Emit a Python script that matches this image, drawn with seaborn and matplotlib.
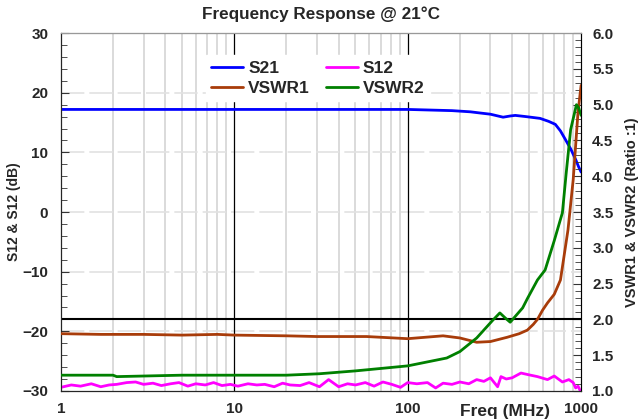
import numpy as np
import pandas as pd
import matplotlib
matplotlib.use("Agg")
import matplotlib.pyplot as plt
import seaborn as sns

# --- Données ---
freq_s21 = [1, 2, 5, 10, 20, 50, 100, 134, 180, 230, 262, 300, 355, 390, 417, 480, 580,
            650, 710, 760, 810, 870, 930, 970, 1000]
s21 = [17.2, 17.2, 17.2, 17.2, 17.2, 17.2, 17.2, 17.1, 17.0, 16.8, 16.6, 16.4, 15.9, 16.1,
       16.2, 16.0, 15.7, 15.2, 14.7, 13.6, 12.2, 10.6, 8.8, 7.5, 6.7]

freq_s12 = [1, 1.15, 1.3, 1.5, 1.7, 1.9, 2.1, 2.4, 2.7, 3.0, 3.4, 3.8, 4.3, 4.8, 5.4, 6.0,
            6.8, 7.6, 8.5, 9.5, 10.5, 12, 13.5, 15, 17, 19, 21, 24, 27, 31, 35, 40, 45,
            50, 57, 64, 72, 81, 91, 100, 113, 130, 145, 160, 180, 200, 225, 250, 275,
            300, 330, 345, 370, 400, 450, 500, 560, 640, 700, 780, 850, 900, 930, 960, 990]
s12 = [-29.4, -29.0, -29.2, -28.8, -29.3, -29.0, -28.9, -28.6, -28.5, -28.9, -28.7, -29.1,
       -28.8, -28.6, -29.2, -28.8, -29.0, -28.6, -29.1, -28.9, -29.2, -28.8, -29.0, -28.9,
       -29.3, -28.7, -29.0, -29.1, -28.6, -29.3, -28.1, -29.3, -28.8, -29.0, -28.6, -29.2,
       -28.5, -28.9, -29.4, -28.6, -28.8, -28.6, -29.5, -28.7, -28.9, -28.5, -28.8, -28.1,
       -28.4, -27.8, -29.3, -27.6, -28.0, -27.8, -27.0, -27.3, -27.6, -28.1, -27.5, -28.5,
       -28.1, -28.6, -29.5, -29.2, -30.0]

freq_vswr1 = [1, 1.7, 2, 3, 5, 8, 10, 20, 30, 58, 100, 160, 200, 250, 300, 375, 440, 490,
              530, 560, 600, 640, 700, 760, 840, 900, 960, 1000]
vswr1 = [1.80, 1.79, 1.79, 1.79, 1.78, 1.79, 1.78, 1.77, 1.76, 1.76, 1.73, 1.77, 1.74,
         1.68, 1.69, 1.75, 1.80, 1.85, 1.93, 2.00, 2.13, 2.23, 2.35, 2.55, 3.25, 3.95,
         4.90, 5.27]

freq_vswr2 = [1, 2, 2.1, 5, 10, 20, 31, 50, 100, 168, 200, 250, 310, 340, 365, 390, 460,
              490, 560, 620, 700, 780, 820, 870, 940, 970, 1000]
vswr2 = [1.22, 1.22, 1.20, 1.22, 1.22, 1.22, 1.24, 1.28, 1.35, 1.46, 1.55, 1.74, 1.99,
         2.09, 2.02, 1.96, 2.16, 2.29, 2.55, 2.69, 3.10, 3.49, 4.04, 4.65, 5.00, 4.95, 4.85]

vswr_limite = 2.0

sns.set_style("white")
plt.rcParams["font.family"] = ["Liberation Sans", "DejaVu Sans"]
plt.rcParams["font.weight"] = "bold"

fig = plt.figure(figsize=(6.4, 4.19), dpi=100)
ax = fig.add_axes([0.095, 0.067, 0.813, 0.854])
ax2 = ax.twinx()

# --- Grille ---
minor_x = [m * d for d in (1, 10, 100) for m in range(2, 10)]
for x in minor_x:
    ax.axvline(x, color="#d4d4d4", lw=1.2, zorder=0)
for x in (10, 100):
    ax.axvline(x, color="black", lw=0.9, zorder=1)
for y in range(-20, 30, 10):
    ax.axhline(y, color="#e2e2e2", lw=1.2, zorder=0.5, ls=(0, (14, 3)))

# --- Courbes ---
df21 = pd.DataFrame({"f": freq_s21, "v": s21})
df12 = pd.DataFrame({"f": freq_s12, "v": s12})
dv1 = pd.DataFrame({"f": freq_vswr1, "v": vswr1})
dv2 = pd.DataFrame({"f": freq_vswr2, "v": vswr2})

sns.lineplot(data=df21, x="f", y="v", ax=ax, color="#0000ff", lw=2, label="S21", zorder=3)
sns.lineplot(data=df12, x="f", y="v", ax=ax, color="#ff00ff", lw=2, label="S12", zorder=3)
sns.lineplot(data=dv1, x="f", y="v", ax=ax2, color="#a83c0a", lw=2, label="VSWR1", zorder=3)
sns.lineplot(data=dv2, x="f", y="v", ax=ax2, color="#008000", lw=2, label="VSWR2", zorder=3)
ax2.axhline(vswr_limite, color="black", lw=1.5, zorder=2)

ax.set_xscale("log")
ax.set_xlim(1, 1000)
ax.set_ylim(-30, 30)
ax2.set_ylim(1.0, 6.0)

ax.set_xticks([1, 10, 100, 1000])
ax.set_xticklabels(["1", "10", "100", "1000"])
ax.xaxis.set_minor_locator(matplotlib.ticker.NullLocator())
ax.set_yticks(range(-30, 31, 10))
ax.set_yticks(range(-30, 31, 2), minor=True)
ax2.set_yticks(np.arange(1.0, 6.01, 0.5))
ax2.set_yticklabels([f"{v:.1f}" for v in np.arange(1.0, 6.01, 0.5)])
ax2.set_yticks(np.arange(1.0, 6.01, 0.1), minor=True)

ax.tick_params(axis="x", length=0, labelsize=11, pad=8)
ax.tick_params(axis="y", which="major", direction="in", length=6, labelsize=11,
               color="#333333", pad=9)
ax.tick_params(axis="y", which="minor", direction="in", length=4, left=True, color="#333333")
ax2.tick_params(axis="y", which="major", direction="in", length=6, labelsize=11,
                color="#333333", pad=8)
ax2.tick_params(axis="y", which="minor", direction="in", length=4, right=True, color="#333333")
for lab in ax.get_xticklabels() + ax.get_yticklabels() + ax2.get_yticklabels():
    lab.set_fontweight("bold")

for sp in ax.spines.values():
    sp.set_color("#555555")
ax.spines["left"].set_color("black")
ax.spines["bottom"].set_color("black")
ax2.spines["right"].set_color("black")
ax2.spines["top"].set_color("#999999")

ax.set_xlabel("")
ax.set_ylabel("S12 & S12 (dB)", fontsize=10, fontweight="bold", labelpad=1)
ax2.set_ylabel("VSWR1 & VSWR2 (Ratio :1)", fontsize=10.5, fontweight="bold", labelpad=8)
ax.set_title("Frequency Response @ 21°C", fontsize=12.3, fontweight="bold", pad=10)
fig.text(0.789, 0.008, "Freq (MHz)", fontsize=12.5, fontweight="bold", ha="center")

# --- Légende ---
h1, l1 = ax.get_legend_handles_labels()
h2, l2 = ax2.get_legend_handles_labels()
ax.get_legend().remove()
ax2.get_legend().remove()
# ncol=2 remplit par colonne : S21/VSWR1 puis S12/VSWR2
handles = [h1[0], h2[0], h1[1], h2[1]]
labels = [l1[0], l2[0], l1[1], l2[1]]
leg = ax2.legend(handles, labels, ncol=2, loc="upper left", bbox_to_anchor=(0.262, 0.962),
                 frameon=True, fancybox=False, edgecolor="white", framealpha=1,
                 prop={"weight": "bold", "size": 12.5}, handlelength=1.85,
                 handletextpad=0.3, columnspacing=0.9, labelspacing=0.3, borderpad=0.3)
leg.set_zorder(10)

plt.savefig("out.png", dpi=100)
